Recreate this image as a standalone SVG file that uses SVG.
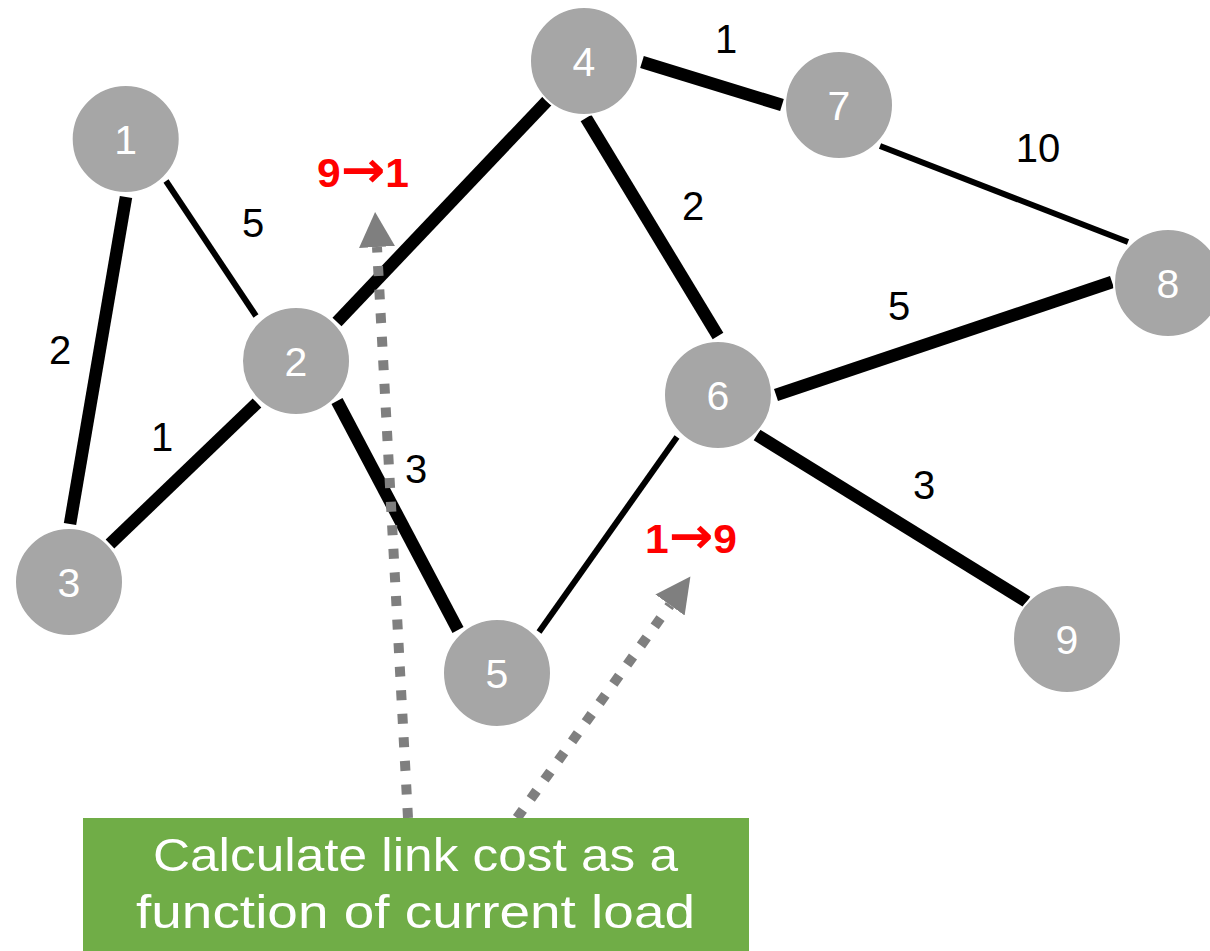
<svg xmlns="http://www.w3.org/2000/svg" width="1210" height="951" viewBox="0 0 1210 951">
<style>
.edge{stroke:#000;fill:none;stroke-linecap:butt}
.thick{stroke-width:12.5}
.thin{stroke-width:6}
.node{fill:#a6a6a6;stroke:#fff;stroke-width:2}
.nl{font-family:"Liberation Sans",Arial,sans-serif;font-size:41px;fill:#fff;text-anchor:middle}
.el{font-family:"Liberation Sans",Arial,sans-serif;font-size:40px;fill:#000;text-anchor:middle}
.red{font-family:"Liberation Sans",Arial,sans-serif;font-size:40px;font-weight:bold;fill:#ff0000}
.arr{font-family:"DejaVu Sans",sans-serif;font-weight:bold;font-size:50px}
.dot{stroke:#7f7f7f;stroke-width:10;fill:none;stroke-dasharray:10 13.6}
.box{fill:#70ad47}
.bt{font-family:"Liberation Sans",Arial,sans-serif;font-size:46px;fill:#fff;text-anchor:middle}
</style>
<defs>
<marker id="ah" markerUnits="userSpaceOnUse" markerWidth="36" markerHeight="38" viewBox="0 0 36 38" refX="0" refY="19" orient="auto">
<path d="M0,1 L35,19 L0,37 z" fill="#7f7f7f"/>
</marker>
</defs>
<rect width="1210" height="951" fill="#fff"/>
<g id="connectors">
<line class="edge thick" x1="126" y1="197" x2="70" y2="524"/>
<line class="edge thin" x1="166" y1="181" x2="256" y2="316"/>
<line class="edge thick" x1="110" y1="544" x2="257" y2="403"/>
<line class="edge thick" x1="337" y1="322" x2="547" y2="101"/>
<line class="edge thick" x1="337" y1="401" x2="458" y2="630"/>
<line class="edge thick" x1="642" y1="62" x2="782" y2="105"/>
<line class="edge thick" x1="586" y1="118" x2="718" y2="336"/>
<line class="edge thin" x1="880" y1="146" x2="1128" y2="242"/>
<line class="edge thick" x1="776" y1="395" x2="1112" y2="282"/>
<line class="edge thin" x1="677" y1="437" x2="539" y2="632"/>
<line class="edge thick" x1="757" y1="435" x2="1027" y2="602"/>
</g>
<g id="node1"><circle class="node" cx="125.7" cy="139" r="54"/><text class="nl" x="125.7" y="154">1</text></g>
<g id="node2"><circle class="node" cx="296" cy="361" r="54"/><text class="nl" x="296" y="376">2</text></g>
<g id="node3"><circle class="node" cx="69" cy="582" r="54"/><text class="nl" x="69" y="597">3</text></g>
<g id="node4"><circle class="node" cx="584" cy="61" r="54"/><text class="nl" x="584" y="76">4</text></g>
<g id="node5"><circle class="node" cx="497" cy="673" r="54"/><text class="nl" x="497" y="688">5</text></g>
<g id="node6"><circle class="node" cx="718" cy="395" r="54"/><text class="nl" x="718" y="410">6</text></g>
<g id="node7"><circle class="node" cx="839" cy="105" r="54"/><text class="nl" x="839" y="120">7</text></g>
<g id="node8"><circle class="node" cx="1168" cy="283" r="54"/><text class="nl" x="1168" y="298">8</text></g>
<g id="node9"><circle class="node" cx="1067" cy="639" r="54"/><text class="nl" x="1067" y="654">9</text></g>
<g id="edge-labels">
<text class="el" x="253" y="237">5</text>
<text class="el" x="60" y="364">2</text>
<text class="el" x="162" y="451">1</text>
<text class="el" x="416" y="483">3</text>
<text class="el" x="693" y="220">2</text>
<text class="el" x="726" y="53">1</text>
<text class="el" x="1038" y="162">10</text>
<text class="el" x="899" y="320">5</text>
<text class="el" x="924" y="499">3</text>
</g>
<g id="load-changes">
<text class="red" x="317" y="187" textLength="92" lengthAdjust="spacingAndGlyphs">9<tspan class="arr">→</tspan>1</text>
<text class="red" x="645" y="553" textLength="92" lengthAdjust="spacingAndGlyphs">1<tspan class="arr">→</tspan>9</text>
</g>
<g id="pointers">
<line class="dot" x1="408" y1="818" x2="377" y2="247" marker-end="url(#ah)"/>
<line class="dot" x1="517" y1="818" x2="670" y2="605" marker-end="url(#ah)"/>
</g>
<g id="note">
<rect class="box" x="83" y="818" width="666" height="133"/>
<text class="bt" x="415.5" y="871" textLength="525" lengthAdjust="spacingAndGlyphs">Calculate link cost as a</text>
<text class="bt" x="415.5" y="928" textLength="559" lengthAdjust="spacingAndGlyphs">function of current load</text>
</g>
</svg>
